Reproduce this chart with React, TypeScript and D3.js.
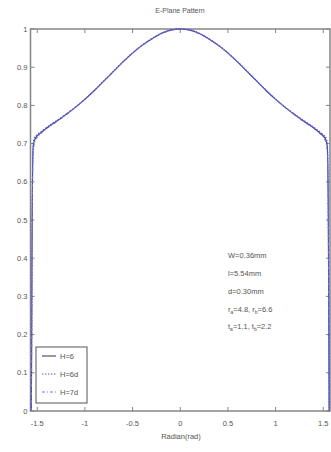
import React from "react";
import * as d3 from "d3";

const xValues = [
  -1.562, -1.558, -1.555, -1.552, -1.548, -1.543, -1.53, -1.5, -1.47, -1.4, -1.3, -1.2,
  -1.1, -1.0, -0.9, -0.8, -0.7, -0.6, -0.5, -0.4, -0.3, -0.2, -0.1, 0,
  0.1, 0.2, 0.3, 0.4, 0.5, 0.6, 0.7, 0.8, 0.9, 1.0, 1.1, 1.2,
  1.3, 1.4, 1.47, 1.5, 1.53, 1.543, 1.548, 1.552, 1.555, 1.558, 1.562,
];

const seriesH6 = [
  0, 0.2, 0.4, 0.55, 0.64, 0.69, 0.708, 0.72, 0.727, 0.741, 0.758, 0.776,
  0.795, 0.816, 0.839, 0.864, 0.889, 0.914, 0.937, 0.957, 0.974, 0.988, 0.997, 1.0,
  0.997, 0.988, 0.974, 0.957, 0.937, 0.914, 0.889, 0.864, 0.839, 0.816, 0.795, 0.776,
  0.758, 0.741, 0.727, 0.72, 0.708, 0.69, 0.64, 0.55, 0.4, 0.2, 0,
];

const seriesH6d = [
  0, 0.22, 0.42, 0.57, 0.66, 0.7, 0.715, 0.724, 0.73, 0.743, 0.76, 0.777,
  0.796, 0.817, 0.84, 0.865, 0.89, 0.915, 0.938, 0.958, 0.975, 0.989, 0.998, 1.0,
  0.998, 0.989, 0.975, 0.958, 0.938, 0.915, 0.89, 0.865, 0.84, 0.817, 0.796, 0.777,
  0.76, 0.743, 0.73, 0.724, 0.715, 0.7, 0.66, 0.57, 0.42, 0.22, 0,
];

const seriesH7d = [
  0, 0.18, 0.38, 0.52, 0.62, 0.67, 0.7, 0.716, 0.724, 0.739, 0.756, 0.774,
  0.794, 0.815, 0.838, 0.863, 0.888, 0.913, 0.936, 0.956, 0.973, 0.987, 0.996, 1.0,
  0.996, 0.987, 0.973, 0.956, 0.936, 0.913, 0.888, 0.863, 0.838, 0.815, 0.794, 0.774,
  0.756, 0.739, 0.724, 0.716, 0.7, 0.67, 0.62, 0.52, 0.38, 0.18, 0,
];

const seriesNames = ["H=6", "H=6d", "H=7d"];
const xTicks = [-1.5, -1, -0.5, 0, 0.5, 1, 1.5];
const xTickLabels = ["-1.5", "-1", "-0.5", "0", "0.5", "1", "1.5"];
const yTicks = [0, 0.1, 0.2, 0.3, 0.4, 0.5, 0.6, 0.7, 0.8, 0.9, 1];
const yTickLabels = ["0", "0.1", "0.2", "0.3", "0.4", "0.5", "0.6", "0.7", "0.8", "0.9", "1"];
const titleText = "E-Plane Pattern";
const xLabelText = "Radian(rad)";

const W = 331;
const H = 452;
const left = 30.5;
const right = 330;
const top = 29;
const bottom = 411;

export default function App() {
  const x = d3.scaleLinear().domain([-Math.PI / 2, Math.PI / 2]).range([left, right]);
  const y = d3.scaleLinear().domain([0, 1]).range([bottom, top]);
  const series = [seriesH6, seriesH6d, seriesH7d];
  const styles = [
    { stroke: "#3b3b96", dash: "none", width: 1.1 },
    { stroke: "#5a5ac8", dash: "1.5,1.5", width: 1.1 },
    { stroke: "#7474d6", dash: "3,2,1,2", width: 1.0 },
  ];
  const line = d3
    .line<number>()
    .x((_, i) => x(xValues[i]))
    .y((v) => y(v))
    .curve(d3.curveMonotoneX);
  const font = "Liberation Sans, Arial, sans-serif";
  const textCol = "#555";
  const axisCol = "#858585";

  const annotLines = ["W=0.36mm", "l=5.54mm", "d=0.30mm"];
  const annotY = [258, 276, 294, 312, 329];
  const ax = 228;

  return (
    <svg
      width={W}
      height={H}
      style={{ position: "absolute", left: 0, top: 0, background: "#fff" }}
      fontFamily={font}
    >
      <rect x={0} y={0} width={W} height={H} fill="#fff" />
      <rect x={left} y={top} width={right - left} height={bottom - top} fill="#fff" stroke={axisCol} strokeWidth={1.5} />
      {xTicks.map((t, i) => (
        <g key={"xt" + i}>
          <line x1={x(t)} x2={x(t)} y1={bottom} y2={bottom - 4} stroke={axisCol} strokeWidth={1} />
          <line x1={x(t)} x2={x(t)} y1={top} y2={top + 4} stroke={axisCol} strokeWidth={1} />
          <text x={x(t)} y={426} fontSize={7.5} fill={textCol} textAnchor="middle">
            {xTickLabels[i]}
          </text>
        </g>
      ))}
      {yTicks.map((t, i) => (
        <g key={"yt" + i}>
          <line x1={left} x2={left + 4} y1={y(t)} y2={y(t)} stroke={axisCol} strokeWidth={1} />
          <line x1={right} x2={right - 4} y1={y(t)} y2={y(t)} stroke={axisCol} strokeWidth={1} />
          <text x={left - 3} y={y(t) + 2.5} fontSize={7.5} fill={textCol} textAnchor="end">
            {yTickLabels[i]}
          </text>
        </g>
      ))}
      {series.map((s, i) => (
        <path
          key={"s" + i}
          d={line(s) || ""}
          fill="none"
          stroke={styles[i].stroke}
          strokeWidth={styles[i].width}
          strokeDasharray={styles[i].dash}
        />
      ))}
      <text x={180} y={13} fontSize={7} fill={textCol} textAnchor="middle">
        {titleText}
      </text>
      <text x={181} y={439} fontSize={7.5} fill={textCol} textAnchor="middle">
        {xLabelText}
      </text>
      {annotLines.map((a, i) => (
        <text key={"an" + i} x={ax} y={annotY[i]} fontSize={7.5} fill={textCol}>
          {a}
        </text>
      ))}
      <text x={ax} y={annotY[3]} fontSize={7.5} fill={textCol}>
        r<tspan fontSize={5} dy={2}>a</tspan>
        <tspan dy={-2}>=4.8, r</tspan>
        <tspan fontSize={5} dy={2}>b</tspan>
        <tspan dy={-2}>=6.6</tspan>
      </text>
      <text x={ax} y={annotY[4]} fontSize={7.5} fill={textCol}>
        t<tspan fontSize={5} dy={2}>a</tspan>
        <tspan dy={-2}>=1.1, t</tspan>
        <tspan fontSize={5} dy={2}>b</tspan>
        <tspan dy={-2}>=2.2</tspan>
      </text>
      <rect x={36} y={347} width={51} height={56} fill="#fff" stroke="#555" strokeWidth={1} />
      {seriesNames.map((n, i) => {
        const ly = 356 + i * 18;
        return (
          <g key={"lg" + i}>
            <line
              x1={42}
              x2={56}
              y1={ly}
              y2={ly}
              stroke={i === 0 ? "#444" : styles[i].stroke}
              strokeWidth={1.1}
              strokeDasharray={styles[i].dash}
            />
            <text x={60} y={ly + 2.5} fontSize={7.5} fill={textCol}>
              {n}
            </text>
          </g>
        );
      })}
    </svg>
  );
}
